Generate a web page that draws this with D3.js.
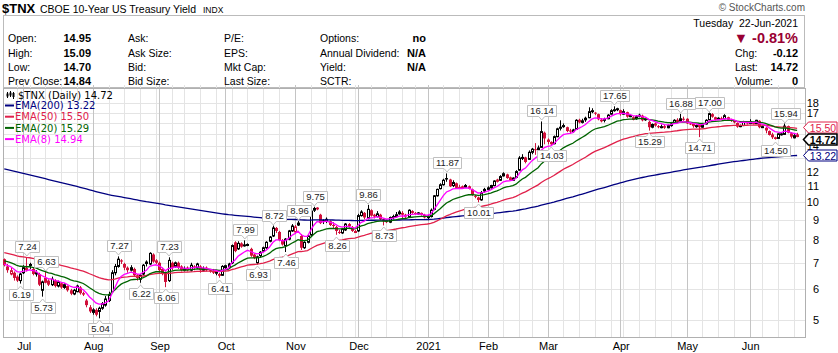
<!DOCTYPE html>
<html><head><meta charset="utf-8">
<script src="https://cdn.jsdelivr.net/npm/d3@7"></script>
<style>body{margin:0;background:#fff}svg{display:block}</style>
</head><body><svg id="c" width="838" height="353"></svg>
<script>
// ---------------- DATA ----------------
const startDate = "2020-06-23", endDate = "2021-06-22";
const holidays = ["2020-07-03","2020-09-07","2020-11-26","2020-12-25","2021-01-01","2021-01-18","2021-02-15","2021-04-02","2021-05-31"];

const opens = [7.15,6.85,6.55,6.60,6.45,6.30,6.60,6.80,6.95,6.75,6.55,6.55,5.95,6.40,6.30,6.15,6.30,6.10,6.20,6.05,6.10,5.95,5.82,5.90,6.05,5.85,5.60,5.38,5.22,5.30,5.25,5.35,5.45,5.60,5.90,6.60,6.85,7.10,6.95,6.80,6.70,6.75,6.50,6.35,6.55,7.05,6.95,7.35,7.10,7.00,6.75,6.60,6.30,7.00,6.85,7.00,6.85,6.70,6.80,6.70,6.85,6.80,6.85,6.70,6.80,6.70,6.65,6.60,6.55,6.50,6.80,6.85,7.00,7.90,7.60,7.85,7.75,7.80,7.60,7.35,7.00,7.30,7.50,7.65,7.95,8.20,8.60,8.40,8.00,7.75,8.05,8.45,8.40,8.75,8.20,7.65,7.90,8.25,9.55,9.70,9.30,9.00,8.95,8.95,8.75,8.65,8.40,8.35,8.50,8.80,8.65,8.40,8.45,9.25,9.40,9.10,9.55,9.30,9.20,9.30,9.05,9.00,8.90,9.15,9.20,9.35,9.40,9.30,9.20,9.50,9.40,9.35,9.40,9.30,9.15,9.20,9.60,10.40,10.85,11.10,11.55,11.45,11.05,11.20,10.95,11.00,10.95,11.00,10.80,10.40,10.30,10.15,10.70,10.80,10.90,11.05,11.45,11.40,11.70,11.80,11.60,11.40,11.60,12.10,13.00,13.05,12.90,13.45,13.70,13.65,13.85,15.10,14.50,14.30,14.15,14.75,15.50,15.65,15.60,15.30,15.20,15.40,16.30,16.05,16.30,16.50,17.15,17.00,16.85,16.30,16.25,16.40,16.85,17.25,17.35,17.25,16.85,17.05,16.65,16.55,16.40,16.65,16.70,16.30,16.10,15.60,15.95,15.70,15.60,15.70,15.55,15.75,15.95,16.30,16.20,16.40,16.40,15.95,15.90,15.65,15.90,15.60,15.90,16.30,16.85,16.55,16.35,16.45,16.40,16.55,16.30,16.20,16.00,15.65,15.75,16.10,15.95,16.05,15.95,16.20,15.60,15.55,15.25,14.95,14.70,14.60,14.95,14.95,15.70,15.05,14.65,14.95];
const highs = [7.18,6.95,6.80,6.65,6.50,6.60,6.90,7.24,7.00,6.80,6.70,6.60,6.30,6.63,6.35,6.45,6.35,6.30,6.25,6.20,6.12,6.00,6.00,6.15,6.10,5.90,5.65,5.45,5.35,5.35,5.40,5.55,5.75,5.90,6.70,6.95,7.27,7.15,7.00,6.85,6.90,6.80,6.55,6.55,6.95,7.10,7.45,7.40,7.15,7.05,6.80,6.65,7.23,7.05,7.05,7.05,6.90,6.85,6.85,7.00,6.90,7.00,6.90,6.85,6.85,6.75,6.75,6.70,6.60,6.90,6.92,7.00,7.80,7.95,7.95,7.90,7.99,7.85,7.65,7.40,7.30,7.50,7.70,7.95,8.20,8.72,8.65,8.45,8.05,8.10,8.50,8.80,8.75,8.96,8.30,7.95,8.25,9.60,9.75,9.72,9.35,9.05,9.15,9.00,8.90,8.70,8.50,8.60,8.85,8.85,8.70,8.50,9.35,9.55,9.45,9.86,9.60,9.35,9.50,9.35,9.10,9.05,9.20,9.30,9.45,9.55,9.50,9.35,9.60,9.55,9.45,9.45,9.42,9.35,9.30,9.65,10.45,10.85,11.20,11.50,11.87,11.50,11.40,11.25,11.10,11.05,11.15,11.05,10.85,10.45,10.35,10.70,10.90,11.00,11.10,11.40,11.50,11.75,11.95,11.85,11.65,11.60,12.10,13.15,13.30,13.10,13.60,13.80,14.20,14.00,16.14,15.20,14.60,14.35,14.85,15.55,16.25,15.95,15.65,15.45,15.45,16.35,16.40,16.40,16.60,17.55,17.45,17.05,16.90,16.45,16.50,16.85,17.35,17.65,17.50,17.30,17.35,17.10,16.80,16.65,16.75,16.90,16.80,16.50,16.20,15.95,16.05,15.80,15.85,15.80,15.85,16.00,16.35,16.45,16.88,16.60,16.45,16.05,15.95,15.85,15.95,15.95,16.35,17.00,16.95,16.60,16.55,16.60,16.85,16.60,16.40,16.25,16.05,15.85,16.20,16.15,16.35,16.10,16.30,16.25,15.75,15.60,15.30,15.10,14.75,15.05,15.10,15.94,15.75,15.15,15.00,15.09];
const lows = [6.85,6.60,6.50,6.30,6.25,6.19,6.55,6.65,6.75,6.50,6.45,6.10,5.73,6.20,6.10,6.10,6.05,6.05,6.00,6.00,5.90,5.78,5.78,5.88,5.80,5.75,5.38,5.20,5.15,5.10,5.04,5.30,5.40,5.55,5.85,6.50,6.80,6.95,6.70,6.60,6.65,6.45,6.30,6.22,6.50,6.85,6.90,7.00,6.95,6.60,6.50,6.06,6.25,6.70,6.80,6.75,6.65,6.65,6.65,6.65,6.70,6.75,6.60,6.65,6.65,6.60,6.55,6.50,6.41,6.48,6.70,6.75,6.95,7.45,7.55,7.65,7.70,7.72,7.25,7.15,6.93,7.20,7.45,7.60,7.90,8.15,8.35,7.95,7.75,7.46,8.00,8.40,8.30,8.70,7.55,7.60,7.85,8.20,9.45,9.55,8.80,8.80,8.85,8.70,8.60,8.26,8.30,8.30,8.45,8.60,8.40,8.35,8.40,9.20,9.05,9.05,9.20,9.10,9.15,9.00,8.73,8.85,8.85,9.05,9.15,9.30,9.05,9.10,9.15,9.35,9.30,9.30,9.25,9.10,9.00,9.15,9.55,10.35,10.80,11.05,11.30,10.95,10.95,10.85,10.85,10.85,10.90,10.80,10.40,10.25,10.01,10.10,10.60,10.75,10.85,11.00,11.25,11.35,11.65,11.50,11.35,11.35,11.55,12.05,12.85,12.60,12.85,13.30,13.25,13.50,13.80,14.10,14.10,14.03,14.10,14.70,15.30,15.55,15.15,15.00,15.10,15.35,15.95,15.95,16.10,16.45,16.95,16.75,16.25,16.05,16.05,16.35,16.80,17.10,17.15,16.70,16.80,16.50,16.55,16.25,16.30,16.55,16.15,16.20,15.29,15.50,15.65,15.50,15.50,15.45,15.50,15.65,15.90,16.00,16.15,16.20,15.90,15.80,15.55,15.55,14.71,15.55,15.85,16.25,16.50,16.25,16.30,16.30,16.35,16.20,16.10,15.95,15.55,15.60,15.70,15.85,15.90,15.85,15.90,15.50,15.55,15.05,14.85,14.55,14.50,14.55,14.85,14.90,15.05,14.60,14.60,14.70];
const closes = [6.90,6.70,6.68,6.40,6.30,6.55,6.80,6.70,6.87,6.55,6.60,6.15,6.25,6.22,6.15,6.35,6.10,6.25,6.05,6.15,5.95,5.83,5.95,6.10,5.85,5.80,5.45,5.25,5.30,5.15,5.35,5.50,5.65,5.80,6.60,6.85,7.15,7.05,6.80,6.70,6.80,6.50,6.40,6.50,6.90,6.95,7.40,7.05,7.00,6.70,6.55,6.25,7.10,6.80,7.00,6.80,6.70,6.75,6.70,6.90,6.80,6.95,6.70,6.75,6.70,6.65,6.60,6.62,6.48,6.85,6.88,6.95,7.75,7.50,7.85,7.70,7.78,7.80,7.30,7.20,7.25,7.45,7.65,7.90,8.15,8.60,8.45,8.00,7.80,8.05,8.45,8.70,8.65,8.85,7.65,7.90,8.20,9.50,9.65,9.60,8.85,8.95,9.05,8.75,8.70,8.45,8.35,8.55,8.80,8.70,8.45,8.42,9.25,9.45,9.15,9.60,9.25,9.20,9.35,9.05,8.95,8.90,9.15,9.20,9.30,9.45,9.30,9.20,9.55,9.40,9.35,9.40,9.30,9.15,9.20,9.55,10.40,10.80,11.10,11.40,11.45,11.00,11.25,10.90,10.88,10.87,11.05,10.85,10.45,10.35,10.15,10.60,10.80,10.90,11.05,11.35,11.30,11.65,11.85,11.55,11.40,11.55,12.00,13.00,13.05,12.70,13.45,13.70,13.65,13.80,15.20,14.60,14.30,14.10,14.75,15.45,15.60,15.75,15.25,15.20,15.35,16.25,16.05,16.20,16.45,17.10,17.20,16.90,16.35,16.15,16.35,16.75,17.20,17.30,17.40,16.85,17.10,16.60,16.70,16.30,16.60,16.75,16.25,16.40,15.60,15.85,15.75,15.60,15.65,15.55,15.75,15.90,16.25,16.10,16.40,16.30,15.95,15.90,15.70,15.75,15.60,15.85,16.25,16.90,16.60,16.30,16.45,16.40,16.70,16.30,16.25,16.05,15.65,15.75,16.10,15.95,16.10,15.90,16.25,15.60,15.65,15.30,14.90,14.70,14.55,15.00,15.00,15.70,15.10,14.75,14.84,14.72];

const yTicks = [5,6,7,8,9,10,11,12,13,14,15,16,17,18];
const monthNames = ["Jul","Aug","Sep","Oct","Nov","Dec","2021","Feb","Mar","Apr","May","Jun"];

const emaNames   = ["EMA(200)","EMA(50)","EMA(20)","EMA(8)"];
const emaPeriods = [200, 50, 20, 8];
const emaSeeds   = [12.25, 7.45, 7.10, 6.96];
const emaLegend  = ["13.22","15.50","15.29","14.94"];
const emaColors  = ["#000080","#e0204a","#006400","#ff00ff"];

const peakIdx  = [7,5,13,12,30,36,43,51,52,68,76,80,85,89,93,98,105,115,120,140,150,170,173,193,204,214,220,223,244,247];
const peakType = ["H","L","H","L","L","H","L","L","H","L","H","L","H","L","H","H","L","H","L","H","L","H","L","H","L","H","L","H","L","H"];
const peakText = ["7.24","6.19","6.63","5.73","5.04","7.27","6.22","6.06","7.23","6.41","7.99","6.93","8.72","7.46","8.96","9.75","8.26","9.86","8.73","11.87","10.01","16.14","14.03","17.65","15.29","16.88","14.71","17.00","14.50","15.94"];

const quoteLeft = [["Open:","14.95"],["High:","15.09"],["Low:","14.70"],["Prev Close:","14.84"]];
const quoteCol2 = ["Ask:","Ask Size:","Bid:","Bid Size:"];
const quoteCol3 = ["P/E:","EPS:","Mkt Cap:","Last Size:"];
const quoteCol4 = [["Options:","no"],["Annual Dividend:","N/A"],["Yield:","N/A"],["SCTR:",""]];
const quoteRight = [["Chg:","-0.12"],["Last:","14.72"],["Volume:","0"]];
const lastTags = [["15.50","#e0204a",false],["14.72","#000",true],["13.22","#000080",false]];
const lastTagVals = [15.50, 14.72, 13.22];

// ---------------- SETUP ----------------
const svg = d3.select("#c");
const fmt = d3.utcFormat("%Y-%m-%d");
const hol = new Set(holidays);
const parse = d3.utcParse("%Y-%m-%d");
const days = d3.utcDay.range(parse(startDate), d3.utcDay.offset(parse(endDate), 1))
  .filter(d => d.getUTCDay() % 6 !== 0 && !hol.has(fmt(d)));
const data = days.map((d, i) => ({d, i, o: opens[i], h: highs[i], l: lows[i], c: closes[i]}));

const PL = 3, PR = 805, PT = 88, PB = 337;
const x = d3.scaleLinear().domain([-0.4, 253.5]).range([PL, PR]);
const y = d3.scaleLog().domain([5, 18]).range([319.7, 103]);
const FONT = "'Liberation Sans', Arial, sans-serif";

// right-edge tag positions (pushed apart when they collide)
const tagY = lastTagVals.map(v => y(v));
for (let k = 1; k < tagY.length; k++) if (tagY[k] - tagY[k - 1] < 12) {
  const mid = (tagY[k] + tagY[k - 1]) / 2; tagY[k - 1] = mid - 6; tagY[k] = mid + 6;
}

// ---------------- HEADER ----------------
const hd = svg.append("g").attr("font-family", FONT).attr("fill", "#000");
hd.append("text").attr("x", 2).attr("y", 13).attr("font-size", 13).attr("font-weight", "bold").text("$TNX");
hd.append("text").attr("x", 40).attr("y", 13).attr("font-size", 10.5).text("CBOE 10-Year US Treasury Yield");
hd.append("text").attr("x", 203).attr("y", 13).attr("font-size", 8.5).text("INDX");
hd.append("text").attr("x", 805).attr("y", 11).attr("font-size", 10).attr("fill", "#555").attr("text-anchor", "end").text("\u00A9 StockCharts.com");
svg.append("rect").attr("x", 3.5).attr("y", 15.5).attr("width", 801).attr("height", 72).attr("fill", "none").attr("stroke", "#bbb");

const rowsY = [42, 56.5, 70.5, 84.5];
quoteLeft.forEach((r, k) => {
  hd.append("text").attr("x", 8).attr("y", rowsY[k]).attr("font-size", 10.5).text(r[0]);
  hd.append("text").attr("x", 91).attr("y", rowsY[k]).attr("font-size", 11).attr("font-weight", "bold").attr("text-anchor", "end").text(r[1]);
});
quoteCol2.forEach((t, k) => hd.append("text").attr("x", 128).attr("y", rowsY[k]).attr("font-size", 10.5).text(t));
quoteCol3.forEach((t, k) => hd.append("text").attr("x", 224).attr("y", rowsY[k]).attr("font-size", 10.5).text(t));
quoteCol4.forEach((r, k) => {
  hd.append("text").attr("x", 320).attr("y", rowsY[k]).attr("font-size", 10.5).text(r[0]);
  hd.append("text").attr("x", 426).attr("y", rowsY[k]).attr("font-size", 11).attr("font-weight", "bold").attr("text-anchor", "end").text(r[1]);
});
hd.append("text").attr("x", 798).attr("y", 27).attr("font-size", 10.5).attr("text-anchor", "end").attr("xml:space", "preserve").text("Tuesday  22-Jun-2021");
hd.append("text").attr("x", 798).attr("y", 42.5).attr("font-size", 14.5).attr("font-weight", "bold").attr("fill", "#990033").attr("text-anchor", "end").text("\u25BC -0.81%");
quoteRight.forEach((r, k) => {
  hd.append("text").attr("x", 735).attr("y", rowsY[k + 1]).attr("font-size", 10.5).text(r[0]);
  hd.append("text").attr("x", 798).attr("y", rowsY[k + 1]).attr("font-size", 11).attr("font-weight", "bold").attr("text-anchor", "end").text(r[1]);
});

// ---------------- GRID ----------------
const grid = svg.append("g");
yTicks.forEach(t => grid.append("line").attr("x1", PL).attr("x2", PR)
  .attr("y1", Math.round(y(t)) + 0.5).attr("y2", Math.round(y(t)) + 0.5).attr("stroke", "#e4e4e4"));
const weekStarts = data.filter((p, i) => i > 0 && d3.utcMonday.floor(p.d) > d3.utcMonday.floor(data[i - 1].d)).map(p => p.i);
const monthStarts = data.filter((p, i) => i > 0 && p.d.getUTCMonth() !== data[i - 1].d.getUTCMonth()).map(p => p.i);
weekStarts.forEach(i => grid.append("line").attr("x1", Math.round(x(i)) + 0.5).attr("x2", Math.round(x(i)) + 0.5)
  .attr("y1", PT - 3).attr("y2", PB).attr("stroke", "#e4e4e4"));
monthStarts.forEach(i => grid.append("line").attr("x1", Math.round(x(i)) + 0.5).attr("x2", Math.round(x(i)) + 0.5)
  .attr("y1", PT - 3).attr("y2", PB).attr("stroke", "#c4c4c4"));
svg.append("rect").attr("x", PL + 0.5).attr("y", PT + 0.5).attr("width", PR - PL).attr("height", PB - PT)
  .attr("fill", "none").attr("stroke", "#b0b0b0");

// month labels
monthStarts.forEach((i, k) => svg.append("text").attr("x", x(i) + 1).attr("y", 350).attr("font-family", FONT)
  .attr("font-size", 11).attr("text-anchor", "middle").text(monthNames[k]));

// y labels (those fully hidden behind a value tag are not drawn, as in the reference)
yTicks.filter(t => tagY.every(ty => Math.abs(y(t) - ty) > 6.5))
  .forEach(t => svg.append("text").attr("x", 819).attr("y", y(t) + 4).attr("font-family", FONT)
    .attr("font-size", 11).attr("text-anchor", "end").text(t));

// ---------------- CANDLES ----------------
const plot = svg.append("g");
const red = "#d0103a";
data.forEach((p, i) => {
  const prev = i > 0 ? closes[i - 1] : p.o;
  const col = p.c >= prev ? "#000" : red;
  const filled = p.c < p.o;
  const cx = Math.round(x(i));
  const top = y(Math.max(p.o, p.c)), bot = y(Math.min(p.o, p.c));
  const bh = Math.max(1, bot - top);
  plot.append("line").attr("x1", cx + 0.5).attr("x2", cx + 0.5).attr("y1", y(p.h)).attr("y2", y(p.l)).attr("stroke", col);
  if (filled) plot.append("rect").attr("x", cx - 1).attr("y", top).attr("width", 3).attr("height", bh).attr("fill", col);
  else plot.append("rect").attr("x", cx - 0.5).attr("y", top).attr("width", 2).attr("height", bh).attr("fill", "#fff").attr("stroke", col);
});

// ---------------- EMAs ----------------
function ema(vals, n, seed) { const k = 2 / (n + 1); let e = seed; return vals.map(v => (e = e + k * (v - e))); }
const line = d3.line().x((v, i) => x(i)).y(v => y(v));
emaPeriods.forEach((n, k) => {
  const vals = ema(closes, n, emaSeeds[k]);
  plot.append("path").attr("d", line(vals)).attr("fill", "none").attr("stroke", emaColors[k]).attr("stroke-width", 1.3);
});

// ---------------- PEAK LABELS ----------------
const lab = svg.append("g").attr("font-family", FONT).attr("font-size", 9.5);
peakIdx.forEach((i, k) => {
  const cx = x(i) + 0.5;
  const isH = peakType[k] === "H";
  const t = lab.append("text").attr("text-anchor", "middle").attr("fill", "#222").text(peakText[k]);
  const w = t.node().getComputedTextLength() + 5, h = 11;
  const left = Math.round(cx - w / 2) + 0.5, right = left + Math.round(w);
  let top, bottom, d;
  if (isH) {
    bottom = Math.round(y(highs[i]) - 5) + 0.5; top = bottom - h;
    d = `M${left},${top}H${right}V${bottom}H${cx + 3}L${cx},${bottom + 3.5}L${cx - 3},${bottom}H${left}Z`;
  } else {
    top = Math.round(y(lows[i]) + 5) + 0.5; bottom = top + h;
    d = `M${left},${top}H${cx - 3}L${cx},${top - 3.5}L${cx + 3},${top}H${right}V${bottom}H${left}Z`;
  }
  lab.insert("path", "text").attr("d", d).attr("fill", "#fff").attr("stroke", "#c0c0c0");
  t.attr("x", (left + right) / 2).attr("y", top + 8.5).raise();
});

// ---------------- LEGEND ----------------
const lg = svg.append("g").attr("font-family", "'DejaVu Sans', Verdana, sans-serif").attr("font-size", 10);
[[7, 92, 98, 93.5, 96.5], [10, 91, 97, 92.5, 95.5], [13, 92, 99, 93, 97]].forEach(c => {
  lg.append("line").attr("x1", c[0] + 0.5).attr("x2", c[0] + 0.5).attr("y1", c[1]).attr("y2", c[2]).attr("stroke", "#000");
  lg.append("rect").attr("x", c[0] - 0.5).attr("y", c[3]).attr("width", 2).attr("height", c[4] - c[3]).attr("fill", "#000");
});
lg.append("text").attr("x", 18).attr("y", 98.5).text("$TNX (Daily) 14.72");
emaNames.forEach((nm, k) => {
  const yy = 105.5 + k * 11.2;
  lg.append("line").attr("x1", 5).attr("x2", 14).attr("y1", yy).attr("y2", yy).attr("stroke", emaColors[k]).attr("stroke-width", 2);
  lg.append("text").attr("x", 15).attr("y", yy + 3.7).attr("fill", emaColors[k]).text(nm + " " + emaLegend[k]);
});

// ---------------- RIGHT TAGS ----------------
const tg = svg.append("g").attr("font-family", FONT).attr("font-size", 10.5);
lastTags.forEach((tgd, k) => {
  const cy = Math.round(tagY[k]) + 0.5;
  const bw = tgd[2] ? 1.6 : 1;
  tg.append("path").attr("d", `M803.5,${cy}L808.5,${cy - 5.5}H837V${cy + 5.5}H808.5Z`)
    .attr("fill", "#fff").attr("stroke", tgd[1]).attr("stroke-width", bw);
  tg.append("text").attr("x", 823).attr("y", cy + 4).attr("fill", tgd[1]).attr("text-anchor", "middle")
    .attr("font-weight", tgd[2] ? "bold" : "normal").text(tgd[0]);
});
</script></body></html>
